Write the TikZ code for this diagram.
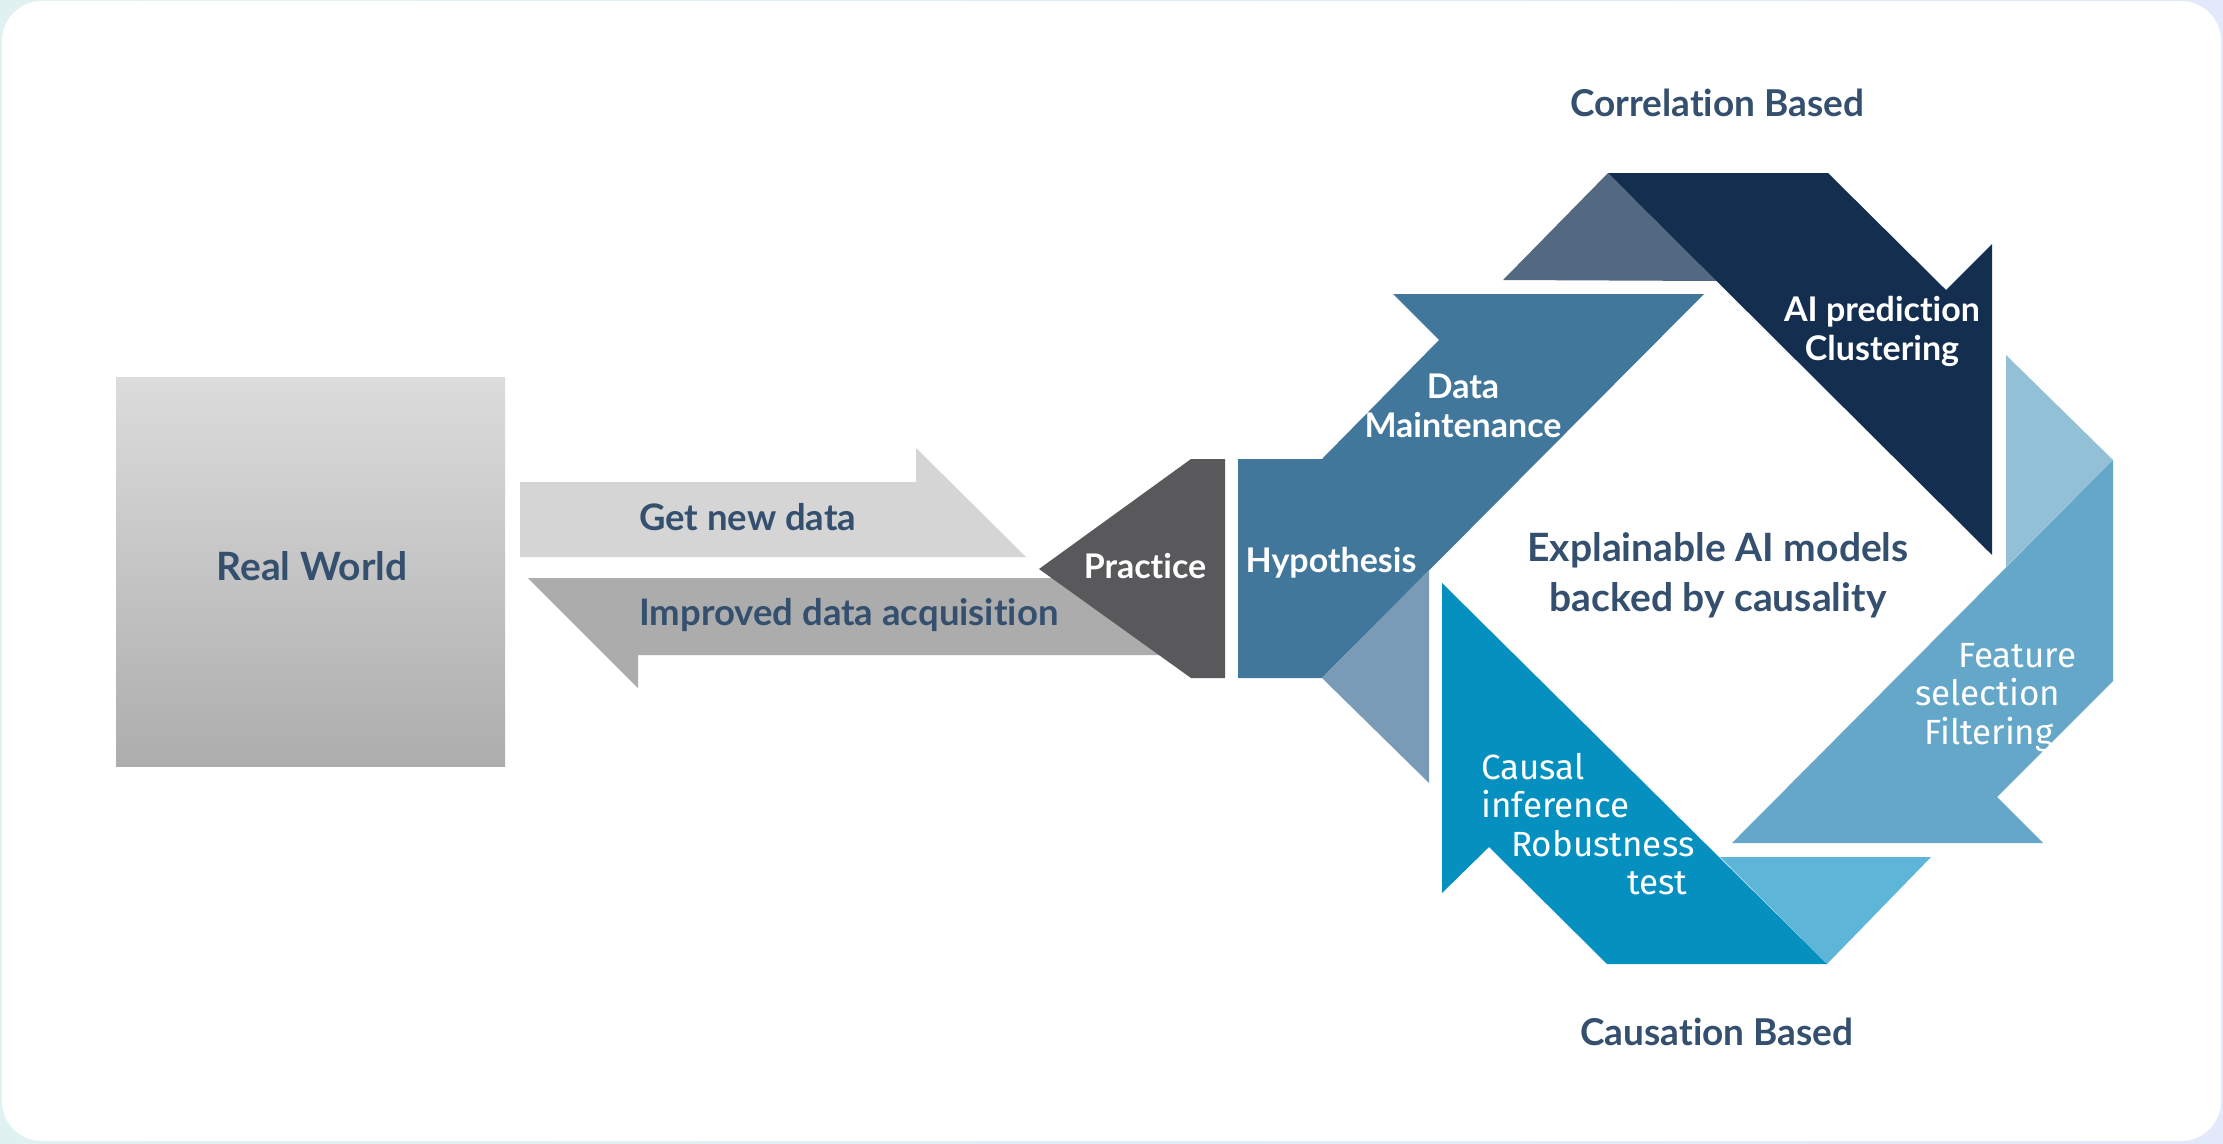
\documentclass[tikz,border=0pt]{standalone}
\usepackage{fontspec}
\setmainfont{Lato}[RawFeature=-liga]
\newfontfamily\fira{Fira Sans}
\definecolor{tintA}{HTML}{E0F1F2}
\definecolor{tintB}{HTML}{E2E9FA}
\definecolor{txt}{HTML}{34506E}
\definecolor{rwtop}{HTML}{DCDCDC}
\definecolor{rwbot}{HTML}{ADADAD}
\definecolor{gnd}{HTML}{D5D5D5}
\definecolor{ida}{HTML}{ACACAC}
\definecolor{prac}{HTML}{59585A}
\definecolor{hypc}{HTML}{41779B}
\definecolor{hypl}{HTML}{7A9BB6}
\definecolor{navy}{HTML}{142E4F}
\definecolor{navyl}{HTML}{526981}
\definecolor{featc}{HTML}{65A7C8}
\definecolor{featl}{HTML}{92C0D7}
\definecolor{causc}{HTML}{0590C0}
\definecolor{causl}{HTML}{5DB5D7}
\begin{document}
\begin{tikzpicture}[x=1pt,y=-1pt,
  lbl/.style={font=\fontsize{34}{39}\selectfont\bfseries, text=white, align=center, inner sep=0pt},
  dlbl/.style={font=\fontsize{37}{50}\selectfont\bfseries, text=txt, align=center, inner sep=0pt},
  biglbl/.style={font=\fontsize{39}{50}\selectfont\bfseries, text=txt, align=center, inner sep=0pt},
  glbl/.style={font=\fontsize{36.5}{40}\selectfont\bfseries, text=txt, inner sep=0pt},
  flbl/.style={font=\fira\fontsize{35}{38.5}\selectfont, text=white, align=left, inner sep=0pt}]
\shade[left color=tintA, right color=tintB] (0,0) rectangle (2223,1143);
\fill[white, rounded corners=40pt] (2,1) rectangle (2221,1141);
\useasboundingbox (0,0) rectangle (2223,1143);

% Real World
\node (rw) [minimum width=389pt, minimum height=389pt, top color=rwtop, bottom color=rwbot, draw=none, inner sep=0pt] at (310.5,571.5) {};
\node[biglbl] (rwt) at (312,566) {Real World};

% arrows
\fill[gnd] (520,482) -- (916,482) -- (916,448) -- (1026,557) -- (520,557) -- cycle;
\fill[ida] (528,578) -- (1200,578) -- (1200,655) -- (638,655) -- (638,688) -- cycle;
\fill[prac] (1191,459) -- (1225,459) -- (1225,678) -- (1191,678) -- (1039,569) -- cycle;
\node[glbl, anchor=west] (gndt) at (639,517) {Get new data};
\node[glbl, anchor=west] (idat) at (639,615) {Improved data acquisition};
\node[lbl] (pract) at (1145,566) {Practice};

% cycle pieces
\fill[hypc] (1238,459) -- (1322,459) -- (1439,340) -- (1393,294) -- (1704,294) -- (1322,678) -- (1238,678) -- cycle;
\fill[hypl] (1429,570) -- (1429,783) -- (1322,678) -- cycle;
\fill[navyl] (1503,280) -- (1608,173) -- (1717,281) -- cycle;
\fill[navy] (1608,173) -- (1828,173) -- (1946,290) -- (1992,244) -- (1992,555) -- cycle;
\fill[featl] (2006,355) -- (2113,460) -- (2006,567) -- cycle;
\fill[featc] (2113,460) -- (2113,681) -- (1997,797) -- (2043,843) -- (1732,843) -- cycle;
\fill[causl] (1931,857) -- (1827,964) -- (1720,857) -- cycle;
\fill[causc] (1827,964) -- (1607,964) -- (1489,847) -- (1442,893) -- (1442,583) -- cycle;

\node[lbl] (hypt) at (1331,563) {Hypothesis};
\node[lbl] (dmt) at (1463,406) {Data\\Maintenance};
\node[lbl] (aipt) at (1882,331) {AI prediction\\Clustering};
\node[flbl, anchor=north west] (featt) at (1915,643) {\hspace*{43pt}Feature\\selection\\\hspace*{9pt}Filtering};
\node[flbl, anchor=north west] (caust) at (1481,753) {Causal\\inference\\\hspace*{30pt}Robustness\\\hspace*{146pt}test};

\node[biglbl] (expl) at (1718,575) {Explainable AI models\\backed by causality};
\node[dlbl] (corr) at (1717,103) {Correlation Based};
\node[dlbl] (causb) at (1717,1032) {Causation Based};
\end{tikzpicture}
\end{document}
